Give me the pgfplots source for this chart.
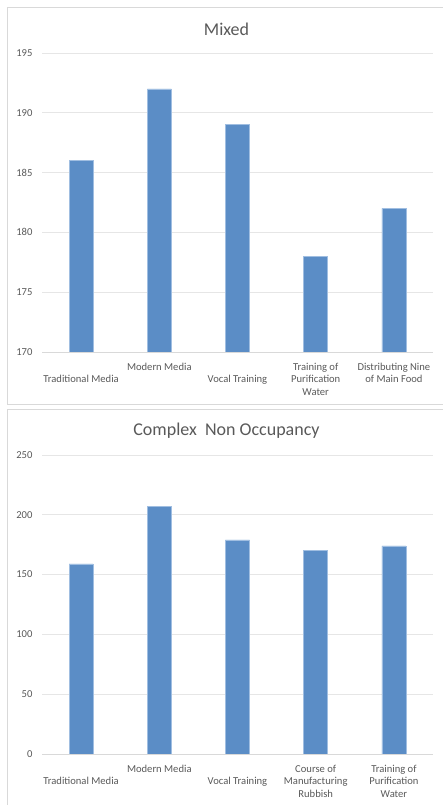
\documentclass[border=0pt]{standalone}
\usepackage{fontspec}
\setmainfont{Carlito}
\usepackage{pgfplots}
\pgfplotsset{compat=1.18}

\definecolor{barblue}{RGB}{91,141,198}
\definecolor{barlight}{RGB}{160,190,225}
\definecolor{gridgray}{RGB}{230,230,230}
\definecolor{framegray}{RGB}{217,217,217}
\definecolor{textgray}{RGB}{89,89,89}

\pgfplotsset{excelbars/.style={
  scale only axis, width=391pt, height=299pt,
  xmin=-0.5, xmax=4.5, xtick={0,...,4},
  axis x line*=bottom, axis y line*=left,
  y axis line style={draw=none},
  x axis line style={draw=framegray, line width=0.75pt, -},
  major tick length=0pt,
  ymajorgrids, grid style={draw=gridgray, line width=0.75pt},
  tick label style={font=\fontsize{10.6}{12.7}\selectfont, text=textgray},
  /pgf/number format/assume math mode=true,
  yticklabel style={xshift=-6pt},
  xticklabel style={align=center, anchor=north, yshift=-5.6pt},
  ybar, bar width=0.307,
}}

\begin{document}
\begin{tikzpicture}
\useasboundingbox (0,0) rectangle (443pt,805pt);

% frames round the two charts
\draw[framegray, line width=0.75pt] (444pt,798pt) -- (7.3pt,798pt) -- (7.3pt,401pt) -- (444pt,401pt);
\draw[framegray, line width=0.75pt] (444pt,395.7pt) -- (7.3pt,395.7pt) -- (7.3pt,-2pt);

\node[font=\fontsize{18}{21}\selectfont, text=textgray] at (226.5pt,776pt) {Mixed};
\node[font=\fontsize{18}{21}\selectfont, text=textgray] at (226.5pt,374pt) {Complex\ \ Non Occupancy};

% Mixed
\begin{axis}[excelbars,
  at={(42pt,453pt)}, anchor=south west,
  ymin=170, ymax=195, ytick={170,175,...,195},
  xticklabels={{\strut\\Traditional Media}, {\strut Modern Media}, {\strut\\Vocal Training},
               {\strut Training of\\Purification\\Water}, {\strut Distributing Nine\\of Main Food}},
]
\addplot[fill=barblue, draw=barlight, line width=0.5pt]
  coordinates {(0,186) (1,192) (2,189) (3,178) (4,182)};
\end{axis}

% Complex Non Occupancy
\begin{axis}[excelbars,
  at={(42pt,51pt)}, anchor=south west,
  ymin=0, ymax=250, ytick={0,50,...,250},
  xticklabels={{\strut\\Traditional Media}, {\strut Modern Media}, {\strut\\Vocal Training},
               {\strut Course of\\Manufacturing\\Rubbish}, {\strut Training of\\Purification\\Water}},
]
\addplot[fill=barblue, draw=barlight, line width=0.5pt]
  coordinates {(0,159) (1,207) (2,179) (3,170) (4,174)};
\end{axis}
\end{tikzpicture}
\end{document}
